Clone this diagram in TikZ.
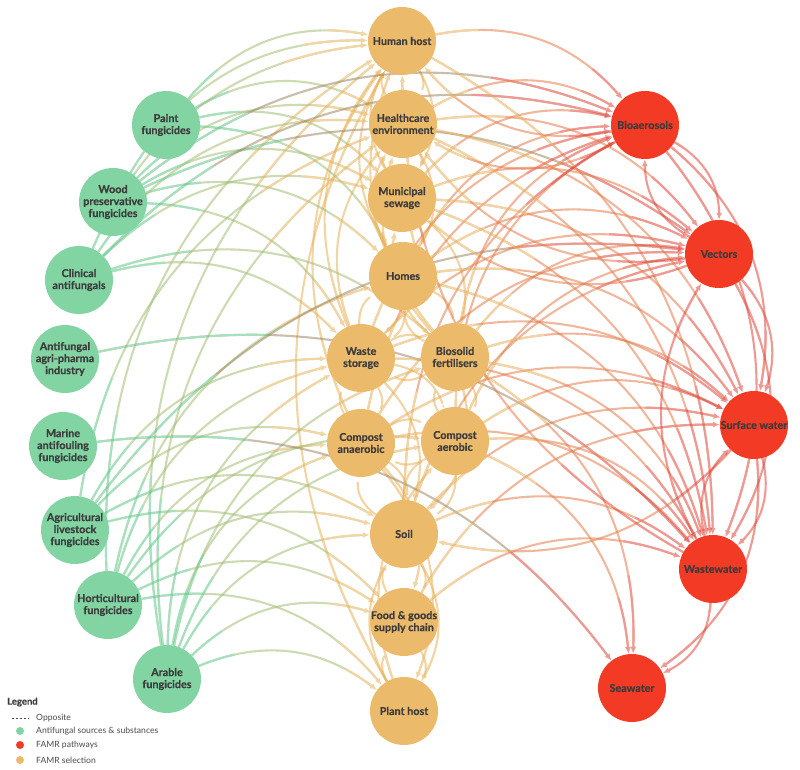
\documentclass[tikz,border=0pt]{standalone}
\usepackage{fontspec}
\setmainfont{Lato}
\newfontfamily\nodefont{Lato}[BoldFeatures={FakeBold=0.5}]
\usetikzlibrary{arrows.meta,calc}
\definecolor{nG}{HTML}{82D4A3}
\definecolor{nO}{HTML}{EBBA6B}
\definecolor{nR}{HTML}{F33A24}
\definecolor{cG}{HTML}{5CC98A}
\definecolor{cO}{HTML}{E8B25A}
\definecolor{cR}{HTML}{E0463A}
\definecolor{txt}{HTML}{3C3C3C}
\definecolor{lgtxt}{HTML}{4A4A4A}
\tikzset{
  nd/.style={circle, minimum size=68pt, inner sep=0pt},
  gN/.style={nd, fill=nG},
  oN/.style={nd, fill=nO},
  rN/.style={nd, fill=nR},
  lbl/.style={align=center, text=txt, font=\nodefont\fontsize{10.8}{12}\selectfont\bfseries, inner sep=0pt},
  eline/.style={line width=2.1pt},
  lgtext/.style={anchor=west, text=lgtxt, font=\fontsize{8.6}{10}\selectfont, inner sep=0pt},
  lgdot/.style={circle, minimum size=8pt, inner sep=0pt},
}
\newcommand\fe[4]{%
  \begin{scope}[transparency group, opacity=0.55]
    \draw[eline, #3!50!#4, shorten >=5pt] (#1) to[bend left=30] (#2);
    \begin{scope}
      \clip let \p1=($(#1)-(#2)$), \n1={0.3*veclen(\x1,\y1)} in (#1) circle[radius=\n1];
      \draw[eline, #3, shorten >=5pt] (#1) to[bend left=30] (#2);
    \end{scope}
    \begin{scope}
      \clip let \p1=($(#1)-(#2)$), \n1={0.3*veclen(\x1,\y1)} in (#2) circle[radius=\n1];
      \draw[eline, #4, -{Latex[length=7pt,width=6pt]}] (#1) to[bend left=30] (#2);
    \end{scope}
  \end{scope}}
\begin{document}
\begin{tikzpicture}[x=1pt,y=1pt]
\useasboundingbox (0,0) rectangle (800,769);
\path
  (166,644) coordinate (pf)
  (113,567) coordinate (wp)
  (79,489) coordinate (ca)
  (65,410) coordinate (ap)
  (63,323) coordinate (ma)
  (75,239) coordinate (al)
  (108,164) coordinate (hf)
  (167,90) coordinate (af)
  (402,728) coordinate (hh)
  (403,645) coordinate (he)
  (402,571) coordinate (ms)
  (403,493) coordinate (ho)
  (361,411) coordinate (ws)
  (455,412) coordinate (bf)
  (361,326) coordinate (can)
  (455,328) coordinate (cae)
  (404,235) coordinate (so)
  (404,147) coordinate (fg)
  (404,58) coordinate (ph)
  (645,644) coordinate (ba)
  (719,515) coordinate (ve)
  (754,344) coordinate (sw)
  (713,200) coordinate (ww)
  (632,81) coordinate (sea);
\foreach \n in {pf,wp,ca,ap,ma,al,hf,af,hh,he,ms,ho,ws,bf,can,cae,so,fg,ph,ba,ve,sw,ww,sea}
  {\node[nd] (N\n) at (\n) {};}
% ---- edges
\foreach \s/\t in {he/hh, ms/hh, ho/hh, ws/hh, bf/hh, can/hh, ph/hh,
  hh/he, ms/he, ho/he, ws/he, bf/he,
  hh/ms, he/ms, ho/ms, bf/ms,
  he/ho, ms/ho, ws/ho, bf/ho,
  ho/ws, ms/ws, can/ws, bf/ws,
  ho/bf, ms/bf, cae/bf, ws/bf,
  ws/can, so/can, cae/can,
  bf/cae, can/cae, ws/cae, so/cae, ph/cae,
  can/so, cae/so, bf/so, ws/so, fg/so, ph/so,
  so/fg, ph/fg, can/fg,
  so/ph, fg/ph, can/ph}
  {\fe{N\s}{N\t}{cO}{cO}}
\foreach \s/\t in {pf/hh, pf/he, pf/ms, pf/ho,
  wp/hh, wp/he, wp/ms, wp/ho, wp/ws,
  ca/hh, ca/he, ca/ms, ca/ws, ca/bf,
  al/he, al/ws, al/can, al/so, al/fg,
  hf/hh, hf/ho, hf/ws, hf/can, hf/cae, hf/so, hf/fg, hf/ph,
  af/hh, af/he, af/ws, af/can, af/cae, af/bf, af/so, af/fg, af/ph}
  {\fe{N\s}{N\t}{cG}{cO}}
\foreach \s/\t in {wp/ba, wp/ve, ca/ba, ap/ww, ma/sea, al/ve}
  {\fe{N\s}{N\t}{cG}{cR}}
\foreach \s/\t in {hh/ba, he/ba, ms/ba, ho/ba, ws/ba, bf/ba, can/ba, cae/ba, so/ba,
  he/ve, ms/ve, ho/ve, ws/ve, bf/ve, can/ve, cae/ve, so/ve,
  he/sw, ms/sw, ho/sw, ws/sw, bf/sw, can/sw, cae/sw, so/sw, fg/sw,
  hh/ww, he/ww, ms/ww, ho/ww, ws/ww, bf/ww, can/ww, cae/ww, so/ww, fg/ww,
  cae/sea, bf/sea}
  {\fe{N\s}{N\t}{cO}{cR}}
\foreach \s/\t in {ba/hh, ba/he, ve/he, sw/so, ww/hh, ve/ms}
  {\fe{N\s}{N\t}{cR}{cO}}
\foreach \s/\t in {ba/ve, ve/ba, ba/sw, ba/ww, ve/sw, ve/ww, ww/ve, sw/ww, ww/sw, sw/sea, ww/sea}
  {\fe{N\s}{N\t}{cR}{cR}}
% ---- visible nodes
\node[gN, label={[lbl]center:Paint\\fungicides}] (Gpf) at (pf) {};
\node[gN, label={[lbl]center:Wood\\preservative\\fungicides}] (Gwp) at (wp) {};
\node[gN, label={[lbl]center:Clinical\\antifungals}] (Gca) at (ca) {};
\node[gN, label={[lbl]center:Antifungal\\agri-pharma\\industry}] (Gap) at (ap) {};
\node[gN, label={[lbl]center:Marine\\antifouling\\fungicides}] (Gma) at (ma) {};
\node[gN, label={[lbl]center:Agricultural\\livestock\\fungicides}] (Gal) at (al) {};
\node[gN, label={[lbl]center:Horticultural\\fungicides}] (Ghf) at (hf) {};
\node[gN, label={[lbl]center:Arable\\fungicides}] (Gaf) at (af) {};
\node[oN, label={[lbl]center:Human host}] (Ohh) at (hh) {};
\node[oN, label={[lbl]center:Healthcare\\environment}] (Ohe) at (he) {};
\node[oN, label={[lbl]center:Municipal\\sewage}] (Oms) at (ms) {};
\node[oN, label={[lbl]center:Homes}] (Oho) at (ho) {};
\node[oN, label={[lbl]center:Waste\\storage}] (Ows) at (ws) {};
\node[oN, label={[lbl]center:Biosolid\\fertilisers}] (Obf) at (bf) {};
\node[oN, label={[lbl]center:Compost\\anaerobic}] (Ocan) at (can) {};
\node[oN, label={[lbl]center:Compost\\aerobic}] (Ocae) at (cae) {};
\node[oN, label={[lbl]center:Soil}] (Oso) at (so) {};
\node[oN, label={[lbl]center:Food \& goods\\supply chain}] (Ofg) at (fg) {};
\node[oN, label={[lbl]center:Plant host}] (Oph) at (ph) {};
\node[rN, label={[lbl]center:Bioaerosols}] (Rba) at (ba) {};
\node[rN, label={[lbl]center:Vectors}] (Rve) at (ve) {};
\node[rN, label={[lbl]center:Surface water}] (Rsw) at (sw) {};
\node[rN, label={[lbl]center:Wastewater}] (Rww) at (ww) {};
\node[rN, label={[lbl]center:Seawater}] (Rsea) at (sea) {};
% ---- legend
\node[anchor=west, inner sep=0pt, text=txt, font=\nodefont\fontsize{9.5}{11}\selectfont\bfseries] (lgt) at (7,67) {Legend};
\coordinate (dA) at (12,51);
\coordinate (dB) at (29,51);
\draw[lgtxt, line width=0.7pt, dash pattern=on 2pt off 2pt] (dA) -- (dB);
\node[lgtext] (lg1) at (36,51) {Opposite};
\node[lgdot, fill=nG] (d2) at (20,38) {};
\node[lgtext] (lg2) at (36,38) {Antifungal sources \& substances};
\node[lgdot, fill=nR] (d3) at (20,24) {};
\node[lgtext] (lg3) at (36,24) {FAMR pathways};
\node[lgdot, fill=nO] (d4) at (20,9) {};
\node[lgtext] (lg4) at (36,9) {FAMR selection};
\end{tikzpicture}
\end{document}
